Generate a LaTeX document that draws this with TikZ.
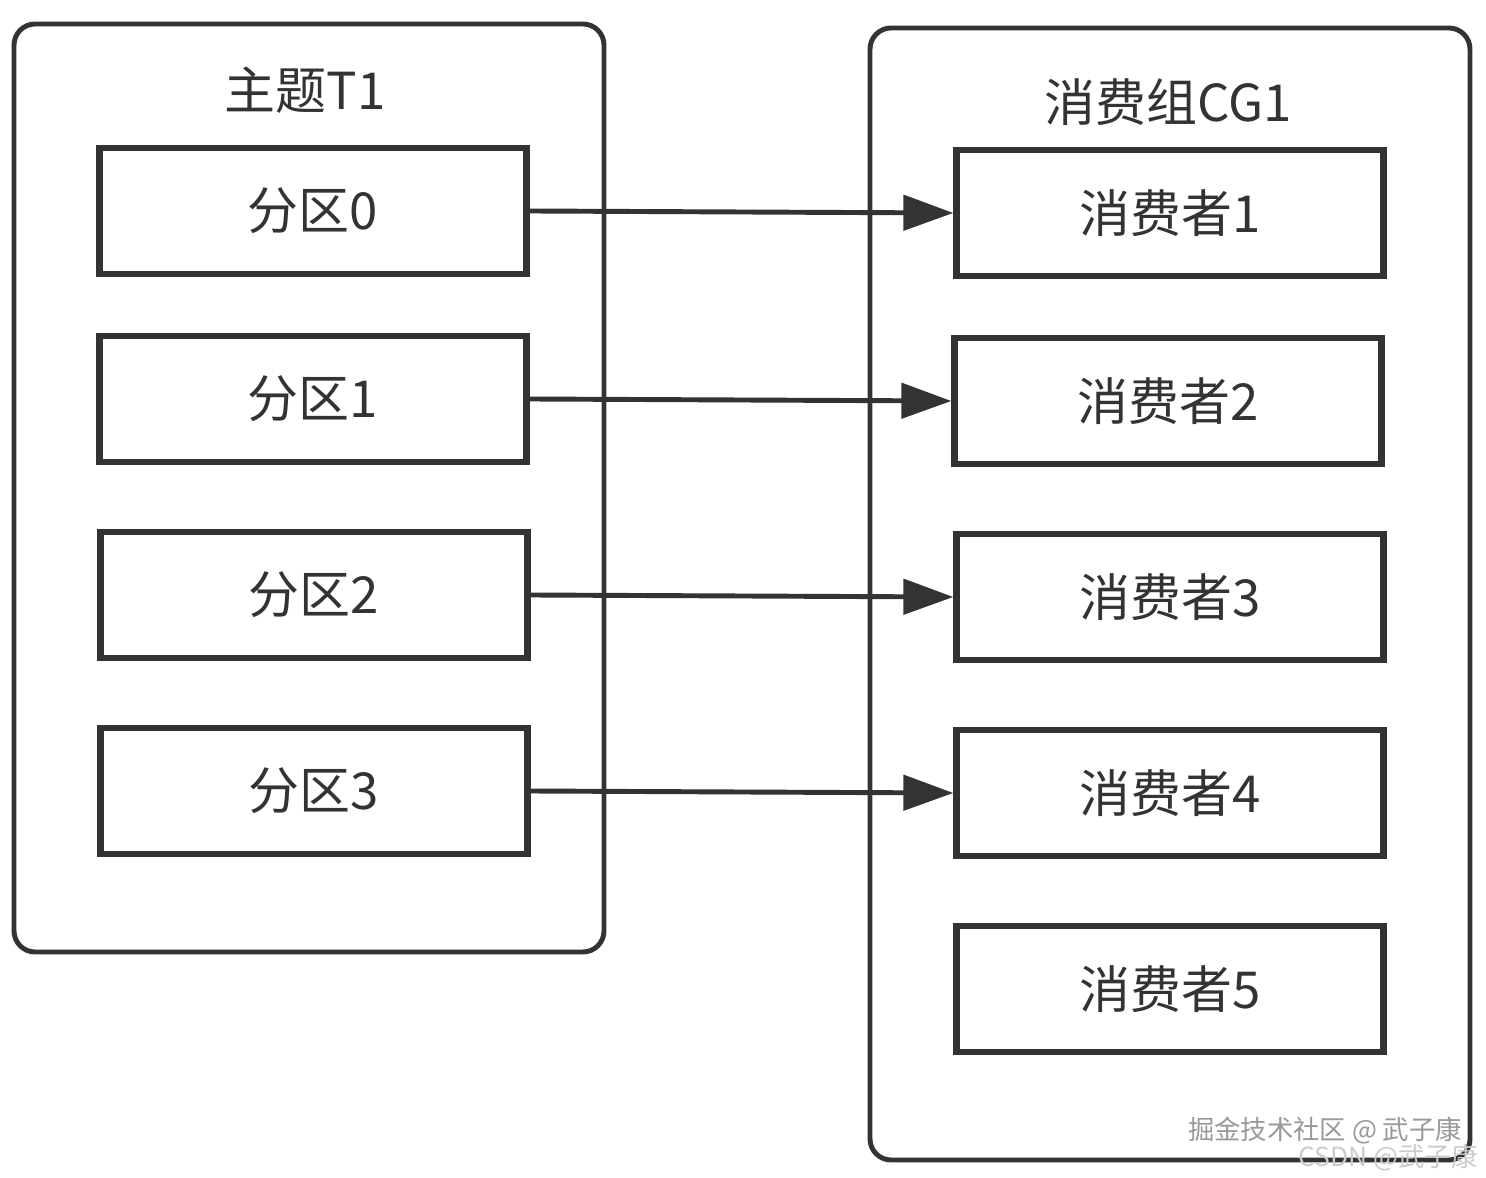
\documentclass[tikz,border=0pt]{standalone}
\usepackage{fontspec}
\setmainfont{Noto Sans CJK SC}
\usetikzlibrary{arrows.meta, positioning}
\definecolor{inkgray}{RGB}{51,51,51}

\begin{document}
\begin{tikzpicture}[
    x=0.1mm, y=-0.1mm,
    group/.style={draw=inkgray,rounded corners=6pt,line width=1.4pt},
    box/.style={draw=inkgray,line width=1.8pt,minimum width=4.27cm,
                minimum height=1.26cm,text=inkgray,font=\fontsize{14.5}{16}\selectfont},
    title/.style={text=inkgray,font=\fontsize{14.5}{16}\selectfont},
    arr/.style={-{Triangle[length=5mm,width=3.5mm]},draw=inkgray,line width=1.4pt},
    wmark/.style={font=\fontsize{7.5}{9}\selectfont,inner sep=0pt}
]
  \useasboundingbox (0,0) rectangle (1486,1178);

  % Containers
  \node[group,minimum width=5.9cm,minimum height=9.28cm] (topic) at (309,488) {};
  \node[group,minimum width=6.0cm,minimum height=11.32cm] (cgroup) at (1170,594) {};
  \node[title] (topictitle) at (305,90) {主题T1};
  \node[title] (cgtitle) at (1168,102) {消费组CG1};

  % Partitions
  \node[box] (p0) at (313,211) {分区0};
  \node[box] (p1) at (313,399) {分区1};
  \node[box] (p2) at (314,595) {分区2};
  \node[box] (p3) at (314,791) {分区3};

  % Consumers
  \node[box] (c1) at (1170,213) {消费者1};
  \node[box] (c2) at (1168,401) {消费者2};
  \node[box] (c3) at (1170,597) {消费者3};
  \node[box] (c4) at (1170,793) {消费者4};
  \node[box] (c5) at (1170,989) {消费者5};

  % Assignments
  \draw[arr] (p0.east) -- (c1.west);
  \draw[arr] (p1.east) -- (c2.west);
  \draw[arr] (p2.east) -- (c3.west);
  \draw[arr] (p3.east) -- (c4.west);

  % Watermarks
  \node[wmark,text=gray!80] (wm1) at (1325,1131) {掘金技术社区 @ 武子康};
  \node[wmark,text=gray!40] (wm2) at (1388,1158) {CSDN @武子康};
\end{tikzpicture}
\end{document}
